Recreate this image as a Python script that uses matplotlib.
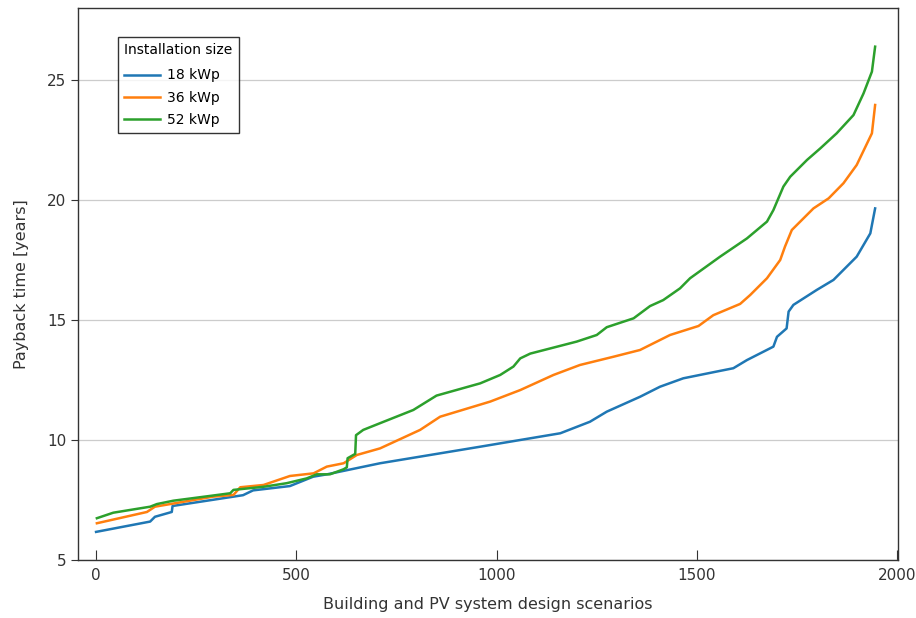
import matplotlib
matplotlib.use("Agg")
import matplotlib.pyplot as plt

# ---- data ----
x_18 = [0, 135, 147, 189, 191, 367, 392, 484, 542, 577, 709, 959, 1159, 1233, 1275,
        1358, 1408, 1466, 1549, 1591, 1625, 1691, 1700, 1724, 1729, 1741, 1799, 1841,
        1899, 1933, 1945]
y_18 = [6.17, 6.6, 6.8, 7.0, 7.25, 7.7, 7.9, 8.08, 8.47, 8.57, 9.03, 9.72, 10.28, 10.76, 11.18,
        11.8, 12.22, 12.57, 12.85, 12.99, 13.33, 13.89, 14.3, 14.65, 15.35, 15.63, 16.25, 16.67,
        17.64, 18.61, 19.65]

x_36 = [2, 127, 147, 293, 343, 360, 418, 484, 543, 576, 618, 651, 709, 809, 859, 984,
        1059, 1142, 1208, 1292, 1358, 1400, 1433, 1504, 1541, 1608, 1633, 1675, 1708,
        1720, 1737, 1791, 1829, 1866, 1899, 1937, 1945]
y_36 = [6.53, 7.0, 7.22, 7.64, 7.71, 8.03, 8.125, 8.5, 8.61, 8.89, 9.03, 9.375, 9.65, 10.42, 10.97, 11.6,
        12.08, 12.71, 13.125, 13.47, 13.75, 14.1, 14.375, 14.75, 15.2, 15.67, 16.04, 16.74, 17.5,
        18.06, 18.75, 19.65, 20.07, 20.7, 21.46, 22.78, 23.96]

x_52 = [2, 43, 135, 152, 193, 285, 335, 343, 418, 476, 526, 551, 584, 618, 626, 628, 647, 649,
        667, 709, 792, 850, 959, 1009, 1042, 1059, 1084, 1200, 1250, 1275, 1342, 1383, 1416,
        1458, 1483, 1558, 1625, 1675, 1691, 1716, 1733, 1775, 1808, 1849, 1891, 1916, 1937, 1945]
y_52 = [6.74, 6.97, 7.22, 7.33, 7.47, 7.67, 7.78, 7.92, 8.05, 8.2, 8.4, 8.57, 8.57, 8.78, 8.86, 9.24, 9.42, 10.2,
        10.42, 10.7, 11.25, 11.85, 12.36, 12.71, 13.06, 13.4, 13.6, 14.1, 14.375, 14.7, 15.07, 15.58, 15.83,
        16.32, 16.74, 17.64, 18.4, 19.1, 19.58, 20.56, 20.97, 21.67, 22.15, 22.78, 23.54, 24.44, 25.35, 26.39]

series_labels = ["18 kWp", "36 kWp", "52 kWp"]
x_ticks = [0, 500, 1000, 1500, 2000]
y_ticks = [5, 10, 15, 20, 25]

plt.rcParams['font.family'] = ['DejaVu Sans']

fig = plt.figure(figsize=(9.16, 6.18), dpi=100)
ax = fig.add_axes([0.0852, 0.0939, 0.8951, 0.8931])

colors = ["#1f77b4", "#ff7f0e", "#2ca02c"]
for xs, ys, lab, c in zip([x_18, x_36, x_52], [y_18, y_36, y_52], series_labels, colors):
    ax.plot(xs, ys, color=c, lw=1.8, label=lab, solid_joinstyle='round')

ax.set_xlim(-45, 2002)
ax.set_ylim(5, 28)
ax.set_xticks(x_ticks)
ax.set_yticks(y_ticks)
ax.yaxis.grid(True, color="#cccccc", lw=0.9)
ax.set_axisbelow(True)

for s in ax.spines.values():
    s.set_color("#333333")
    s.set_linewidth(1.0)

ax.tick_params(axis='x', direction='in', length=7, color="#333333", labelsize=11, pad=6, labelcolor="#333333")
ax.tick_params(axis='y', direction='out', length=5, color="#333333", labelsize=11, labelcolor="#333333")

ax.set_xlabel("Building and PV system design scenarios", fontsize=11.5, color="#333333", labelpad=10)
ax.set_ylabel("Payback time [years]", fontsize=11.5, color="#333333", labelpad=13)

leg = ax.legend(title="Installation size", loc="upper left", bbox_to_anchor=(0.0488, 0.9475),
                borderaxespad=0, fontsize=10, title_fontsize=10, frameon=True, fancybox=False,
                edgecolor="black", handlelength=2.6, borderpad=0.45, labelspacing=0.6,
                handletextpad=0.5)
leg.get_frame().set_linewidth(1.0)
leg._legend_box.align = "left"
leg._legend_box.sep = 8

fig.savefig("out.png", dpi=100)
